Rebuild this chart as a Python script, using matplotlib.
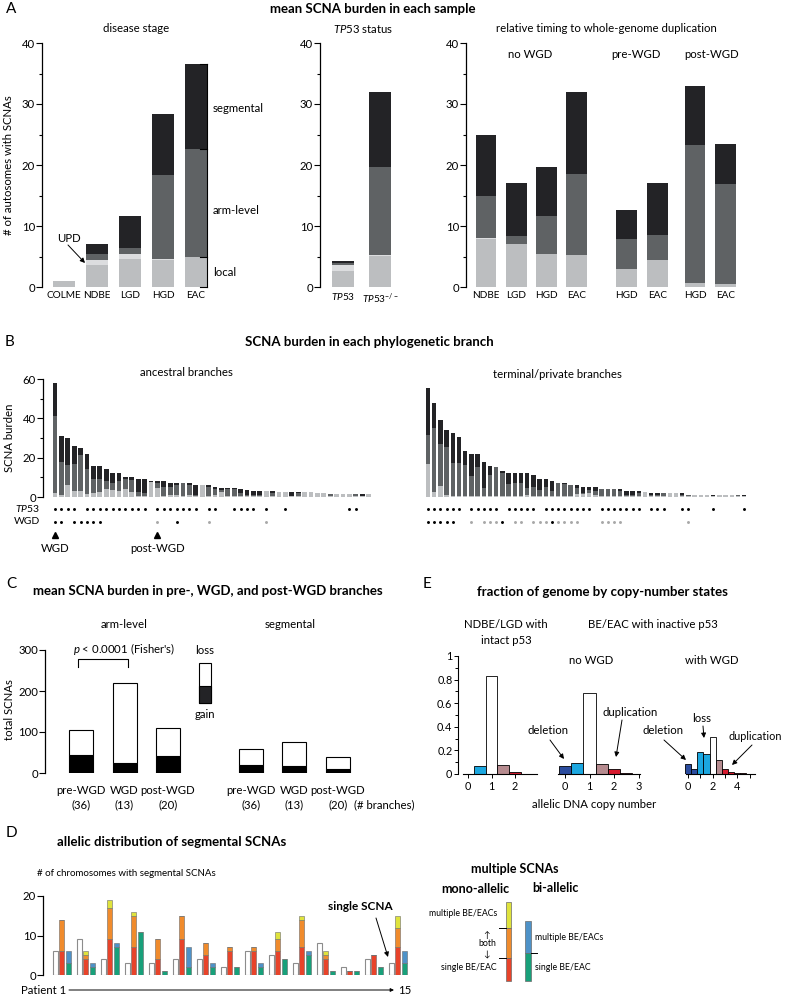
import numpy as np
import matplotlib

matplotlib.use("Agg")
import matplotlib.pyplot as plt
from matplotlib import transforms
from matplotlib.patches import Rectangle, FancyArrowPatch
from matplotlib.lines import Line2D

W, H = 785, 999
plt.rcParams["font.family"] = ["Lato", "DejaVu Sans"]
plt.rcParams["mathtext.fontset"] = "custom"
plt.rcParams["mathtext.rm"] = "Lato"
plt.rcParams["mathtext.it"] = "Lato:italic"
plt.rcParams["mathtext.bf"] = "Lato:bold"

FS = 8.2      # body text
FS_T = 9.5    # panel titles
FS_K = 7.8    # tick labels

# ---- colours
C_LOCAL, C_UPD, C_ARM, C_SEG = "#bcbec0", "#dcdddf", "#5f6264", "#232326"
C_RED, C_ORANGE, C_YELLOW = "#e8432a", "#f08b2c", "#dfe33c"
C_BLUE, C_GREEN = "#4e92c8", "#18a07a"
E_DKBLUE, E_LTBLUE, E_WHITE, E_MAUVE, E_RED = "#2b4c9e", "#1ba7e0", "#ffffff", "#b68b8f", "#d71a2e"

# ---- A: mean SCNA burden per sample
stage_names = ["COLME", "NDBE", "LGD", "HGD", "EAC"]
stage_local = [1.0, 3.6, 4.6, 4.4, 4.9]
stage_upd = [0.0, 0.8, 0.8, 0.2, 0.1]
stage_arm = [0.0, 1.0, 1.0, 13.8, 17.6]
stage_seg = [0.0, 1.6, 5.3, 9.9, 13.9]

tp53_names = [r"$TP53$", r"$TP53^{-/-}$"]
tp53_local = [2.7, 5.1]
tp53_upd = [0.9, 0.1]
tp53_arm = [0.4, 14.5]
tp53_seg = [0.3, 12.2]

wgd_names = ["NDBE", "LGD", "HGD", "EAC", "HGD", "EAC", "HGD", "EAC"]
wgd_local = [7.8, 7.0, 5.4, 5.3, 2.9, 4.4, 0.6, 0.5]
wgd_upd = [0.3, 0, 0, 0, 0, 0, 0, 0]
wgd_arm = [6.9, 1.3, 6.2, 13.3, 4.9, 4.1, 22.7, 16.4]
wgd_seg = [10.0, 8.7, 8.0, 13.4, 4.9, 8.6, 9.7, 6.5]

# ---- B: per-branch burden (local, arm-level, segmental)
anc_local = [2, 1, 6, 3, 3, 1.5, 2, 2.5, 4, 3.5, 3, 4, 2.5, 0.5, 0.5, 7.5, 4.5, 0.5, 1, 1,
             0.5, 1, 0.5, 6, 0.5, 1, 2.5, 0.5, 0.5, 0.5, 0.5, 0.5, 0.3, 3.2, 0.5, 2.4, 2.4, 0.4, 0.4, 2.4,
             2.4, 2, 1.8, 0.3, 1.5, 1.5, 1.5, 0.3, 0.3, 1.5]
anc_arm = [39, 17, 10.5, 14, 18.5, 12.5, 7, 6.5, 4, 3.5, 5, 5, 6, 2, 1.5, 0, 2.5, 4.5, 4, 5,
           6.5, 5, 0.5, 0, 4.5, 3, 1, 3.5, 3.5, 1.5, 0.5, 0.5, 0.5, 0, 1.7, 0, 0, 0, 1.5, 0,
           0, 0, 0, 1.2, 0, 0, 0, 1.2, 0.4, 0]
anc_seg = [17, 13, 13.5, 9, 3.5, 8, 7, 7, 6, 5, 4, 1, 1.5, 6.5, 7, 0.5, 1, 3, 2, 1,
           0, 1, 5, 0, 1, 1, 1, 0.5, 0.5, 2, 2.5, 2.2, 2.4, 0, 1, 0, 0, 2, 0.5, 0,
           0, 0, 0, 0, 0, 0, 0, 0, 0.8, 0]
anc_tp53 = [0, 1, 2, 3, 5, 6, 7, 8, 9, 10, 11, 12, 13, 14, 16, 17, 18, 19, 20, 21, 22,
            24, 25, 28, 29, 30, 31, 33, 36, 46, 47]
anc_wgd_black = [0, 1, 3, 4, 5, 6, 7, 19]
anc_wgd_gray = [16, 24, 33]

term_local = [17, 2.5, 5.5, 1, 0.5, 0.5, 0.5, 0.5, 0.5, 0.5, 0.5, 0.5, 0.5, 0.5, 0.5, 0.5, 1, 0.5,
              0.5, 0.5, 0.5, 0.5, 0.5, 0.5, 1.5, 1.5, 2, 1, 0.5, 0.5, 0.5, 0.5, 0.3, 0.3, 0.3, 2.5,
              0.3, 0.3, 0.3, 2, 2, 0.3, 0.3, 1, 1, 1, 0.3, 1, 1, 1, 0.3, 0.3]
term_arm = [14.5, 32.5, 21.5, 24.5, 17, 17, 16, 10, 15, 4, 10.5, 15, 11.5, 6, 6.5, 6.5, 3.5, 4.5,
            3, 4.5, 2.5, 6.5, 6, 5.8, 3, 0.3, 1.5, 2, 3.6, 3.6, 3.6, 2.8, 0.5, 0.5, 1.7, 0,
            0.5, 0.5, 1.7, 0, 0, 0.5, 0.7, 0, 0, 0, 0, 0, 0, 0, 0.7, 0]
term_seg = [24, 13, 12, 8.5, 15, 13, 7, 11.5, 6.5, 13.5, 5, 0, 1.3, 5.5, 5, 5, 7.5, 6,
            5.5, 4, 5, 0.3, 0.5, 0, 1.8, 3.3, 1.5, 2, 0, 0, 0, 0.8, 2.4, 2.4, 1, 0,
            1.4, 1.4, 0, 0, 0, 1.4, 0, 0, 0, 0, 0.7, 0, 0, 0, 0, 0.7]
term_tp53 = [0, 1, 2, 3, 4, 5, 7, 8, 9, 10, 11, 13, 14, 15, 16, 17, 19, 20, 21, 22, 23, 24, 25,
             26, 28, 29, 30, 31, 32, 33, 34, 36, 37, 38, 41, 42, 46, 51]
term_wgd_black = [0, 1, 2, 3, 4, 12, 20]
term_wgd_gray = [7, 9, 10, 11, 14, 15, 17, 18, 19, 21, 22, 23, 24, 28, 29, 30, 31, 42]

# ---- C: pre / WGD / post-WGD branches
c_groups = ["pre-WGD", "WGD", "post-WGD"]
c_branches = [36, 13, 20]
arm_total = [104, 219, 109]
arm_gain = [43, 24, 41]
seg_total = [59, 75, 40]
seg_gain = [20, 17, 10]

# ---- D: allelic distribution per patient
d_single = [6, 9, 4, 3, 3, 4, 4, 2, 6, 5, 3, 8, 2, 4, 3]
d_mono_single = [6, 4, 9, 7, 4, 9, 5, 6, 6, 6, 7, 4, 1, 5, 7]
d_mono_both = [8, 1, 8, 8, 5, 6, 3, 1, 1, 3, 7, 1, 0, 0, 5]
d_mono_multi = [0, 1, 2, 1, 0, 0, 0, 0, 0, 2, 1, 1, 0, 0, 3]
d_bi_single = [3, 2, 7, 11, 1, 2, 2, 2, 2, 4, 5, 1, 1, 2, 3]
d_bi_multi = [3, 1, 1, 0, 0, 5, 1, 0, 1, 0, 1, 0, 0, 0, 3]

# ---- E: fraction of genome by allelic copy number
e1_cn = [0, 0.5, 1, 1.5, 2, 2.5]
e1_frac = [0.004, 0.07, 0.83, 0.075, 0.015, 0.003]
e1_col = [E_DKBLUE, E_LTBLUE, E_WHITE, E_MAUVE, E_RED, E_RED]
e2_cn = [0, 0.5, 1, 1.5, 2, 2.5]
e2_frac = [0.07, 0.095, 0.685, 0.085, 0.04, 0.01]
e2_col = [E_DKBLUE, E_LTBLUE, E_WHITE, E_MAUVE, E_RED, E_RED]
e3_cn = [0, 0.5, 1, 1.5, 2, 2.5, 3, 3.5, 4, 4.5, 5]
e3_frac = [0.085, 0.04, 0.185, 0.17, 0.315, 0.115, 0.04, 0.02, 0.01, 0.005, 0.002]
e3_col = [E_DKBLUE, E_DKBLUE, E_LTBLUE, E_LTBLUE, E_WHITE, E_MAUVE, E_RED, E_RED, E_RED, E_RED, E_RED]

fig = plt.figure(figsize=(W / 100, H / 100), dpi=100)


def px_ax(l, t, r, b):
    return fig.add_axes([l / W, 1 - b / H, (r - l) / W, (b - t) / H])


def txt(x, y, s, size=FS, ha="center", va="center", **kw):
    return fig.text(x / W, 1 - y / H, s, fontsize=size, ha=ha, va=va, **kw)


def arrow(x1, y1, x2, y2, ms=7):
    fig.add_artist(FancyArrowPatch((x1 / W, 1 - y1 / H), (x2 / W, 1 - y2 / H),
                                   transform=fig.transFigure, arrowstyle="-|>",
                                   mutation_scale=ms, lw=0.7, color="k",
                                   shrinkA=0, shrinkB=0))


def fig_line(xs, ys, **kw):
    fig.add_artist(Line2D([x / W for x in xs], [1 - y / H for y in ys],
                          transform=fig.transFigure, **kw))


def left_axis(ax, ymax, major, minor=None, xlabelsize=FS_K):
    for s in ("top", "right", "bottom"):
        ax.spines[s].set_visible(False)
    ax.spines["left"].set_linewidth(0.9)
    ax.spines["left"].set_bounds(0, ymax)
    ax.set_ylim(0, ymax)
    ax.set_yticks(major)
    if minor is not None:
        ax.set_yticks(minor, minor=True)
    ax.tick_params(axis="y", which="major", length=4, width=0.8, labelsize=FS_K + 0.4, pad=1)
    ax.tick_params(axis="y", which="minor", length=2.5, width=0.8)
    ax.tick_params(axis="x", length=0, labelsize=xlabelsize, pad=3)
    ax.patch.set_visible(False)


def stacked(ax, x, layers, colors, width, **kw):
    bottom = np.zeros(len(x))
    for vals, c in zip(layers, colors):
        vals = np.asarray(vals, float)
        ax.bar(x, vals, width, bottom=bottom, color=c, **kw)
        bottom = bottom + vals
    return bottom


A_COLS = [C_LOCAL, C_UPD, C_ARM, C_SEG]

# ================= A =================
txt(6, 9, "A", size=11, ha="left")
txt(373, 9, "mean SCNA burden in each sample", size=FS_T, weight="bold")
txt(9, 165, "# of autosomes with SCNAs", rotation=90)

a1 = px_ax(42, 43, 240, 287)
left_axis(a1, 40, [0, 10, 20, 30, 40], [5, 15, 25, 35], xlabelsize=7.2)
xs = np.arange(len(stage_names))
stacked(a1, xs, [stage_local, stage_upd, stage_arm, stage_seg], A_COLS, 0.67, linewidth=0)
a1.set_xlim(-0.67, 5.33)
a1.set_xticks(xs, stage_names)
txt(136, 29, "disease stage")
# bracket beside EAC bar
eac_tops = np.cumsum([0, stage_local[4] + stage_upd[4], stage_arm[4], stage_seg[4]])
bx = 4.33
a1.plot([bx, bx], [0, eac_tops[-1]], color="k", lw=0.8, clip_on=False)
for yv in eac_tops:
    a1.plot([bx - 0.22, bx], [yv, yv], color="k", lw=0.8, clip_on=False)
txt(213, 108, "segmental", ha="left")
txt(213, 211, "arm-level", ha="left")
txt(213, 272, "local", ha="left")
txt(69, 239, "UPD")
arrow(68, 245, 85, 263)

a2 = px_ax(320, 43, 410, 287)
left_axis(a2, 40, [0, 10, 20, 30, 40], [5, 15, 25, 35], xlabelsize=7.2)
xs = np.arange(len(tp53_names))
stacked(a2, xs, [tp53_local, tp53_upd, tp53_arm, tp53_seg], A_COLS, 0.6, linewidth=0)
a2.set_xlim(-0.62, 1.81)
a2.set_xticks(xs, tp53_names)
txt(363, 29, r"$TP53$ status")

a3 = px_ax(466, 43, 745, 287)
left_axis(a3, 40, [0, 10, 20, 30, 40], [5, 15, 25, 35], xlabelsize=7.2)
xs = np.array([0, 1, 2, 3, 4.65, 5.65, 6.9, 7.9])
stacked(a3, xs, [wgd_local, wgd_upd, wgd_arm, wgd_seg], A_COLS, 0.69, linewidth=0)
a3.set_xlim(-0.66, 8.55)
a3.set_xticks(xs, wgd_names)
txt(606, 29, "relative timing to whole-genome duplication")
txt(530, 54, "no WGD")
txt(636, 54, "pre-WGD")
txt(712, 54, "post-WGD")

# ================= B =================
txt(5, 342, "B", size=11, ha="left")
txt(369, 342, "SCNA burden in each phylogenetic branch", size=FS_T, weight="bold")
txt(10, 438, "SCNA burden", rotation=90)
txt(40, 509, r"$TP53$", size=7.5, ha="right")
txt(40, 522, "WGD", size=7.5, ha="right")
ROW_TP53, ROW_WGD = 509, 522

b1 = px_ax(43, 379, 400, 497)
left_axis(b1, 60, [0, 20, 40, 60], [10, 30, 50])
xa = np.arange(len(anc_local))
stacked(b1, xa, [anc_local, anc_arm, anc_seg], [C_LOCAL, C_ARM, C_SEG], 0.72, linewidth=0)
b1.set_xlim((43 - 55) / 6.4, (400 - 55) / 6.4)
b1.set_xticks([])
txt(186, 373, "ancestral branches")

b2 = px_ax(420, 379, 760, 497)
for s in b2.spines.values():
    s.set_visible(False)
b2.set_ylim(0, 60)
xt = np.arange(len(term_local))
stacked(b2, xt, [term_local, term_arm, term_seg], [C_LOCAL, C_ARM, C_SEG], 0.72, linewidth=0)
b2.set_xlim((420 - 428) / 6.2, (760 - 428) / 6.2)
b2.set_xticks([])
b2.set_yticks([])
b2.patch.set_visible(False)
txt(557, 374, "terminal/private branches")

for ax, tp, wb, wg in ((b1, anc_tp53, anc_wgd_black, anc_wgd_gray),
                       (b2, term_tp53, term_wgd_black, term_wgd_gray)):
    tr = transforms.blended_transform_factory(ax.transData, fig.transFigure)
    ax.scatter(tp, [1 - ROW_TP53 / H] * len(tp), s=4.5, color="k", transform=tr, clip_on=False, lw=0)
    ax.scatter(wb, [1 - ROW_WGD / H] * len(wb), s=4.5, color="k", transform=tr, clip_on=False, lw=0)
    ax.scatter(wg, [1 - ROW_WGD / H] * len(wg), s=4.5, color="#a8a8a8", transform=tr, clip_on=False, lw=0)

tr = transforms.blended_transform_factory(b1.transData, fig.transFigure)
for idx, lab in ((anc_wgd_black[0], "WGD"), (anc_wgd_gray[0], "post-WGD")):
    b1.plot([idx], [1 - 535 / H], marker="^", ms=5, color="k", transform=tr, clip_on=False)
    b1.text(idx, 1 - 548 / H, lab, transform=tr, ha="center", va="center", fontsize=FS)

# ================= C =================
txt(6, 584, "C", size=11, ha="left")
txt(208, 591, "mean SCNA burden in pre-, WGD, and post-WGD branches", size=FS_T, weight="bold")
txt(10, 710, "total SCNAs", rotation=90)
c1 = px_ax(45, 650, 400, 773)
left_axis(c1, 300, [0, 100, 200, 300])
xc = np.array([0, 1, 2, 3.9, 4.9, 5.9])
tot = np.array(arm_total + seg_total)
gain = np.array(arm_gain + seg_gain)
c1.bar(xc, gain, 0.55, color="k", edgecolor="k", linewidth=0.8)
c1.bar(xc, tot - gain, 0.55, bottom=gain, color="white", edgecolor="k", linewidth=0.8)
c1.set_xlim(-0.83, 7.33)
c1.set_xticks([])
txt(124, 625, "arm-level")
txt(290, 625, "segmental")
for i, x in enumerate(xc):
    px = 81 + x * 43.5
    txt(px, 791, c_groups[i % 3])
    txt(px, 805, f"({c_branches[i % 3]})")
txt(384, 805, "(# branches)")
c1.plot([-0.07, -0.07, 1.08, 1.08], [258, 278, 278, 258], color="k", lw=0.8, clip_on=False)
txt(124, 649, r"$p$ < 0.0001 (Fisher's)")
fig.add_artist(Rectangle((199 / W, 1 - 703 / H), 12 / W, 40 / H, transform=fig.transFigure,
                         facecolor="white", edgecolor="k", lw=0.8))
fig.add_artist(Rectangle((199 / W, 1 - 703 / H), 12 / W, 17 / H, transform=fig.transFigure,
                         facecolor=C_SEG, edgecolor="k", lw=0.8))
txt(205, 651, "loss")
txt(205, 714, "gain")

# ================= D =================
txt(6, 833, "D", size=11, ha="left")
txt(57, 842, "allelic distribution of segmental SCNAs", size=FS_T, weight="bold", ha="left")
txt(37, 873, "# of chromosomes with segmental SCNAs", size=7.0, ha="left")
d1 = px_ax(43, 896, 420, 975)
left_axis(d1, 20, [0, 10, 20])
d1.set_xlim(43, 420)
d1.set_xticks([])
xp = 55.7 + 24.0 * np.arange(len(d_single))
d1.bar(xp, d_single, 5, color="white", edgecolor="#8c8c8c", linewidth=0.8)
stacked(d1, xp + 6.2, [d_mono_single, d_mono_both, d_mono_multi], [C_RED, C_ORANGE, C_YELLOW], 5,
        edgecolor="#6b6b6b", linewidth=0.4)
stacked(d1, xp + 12.4, [d_bi_single, d_bi_multi], [C_GREEN, C_BLUE], 5,
        edgecolor="#6b6b6b", linewidth=0.4)
txt(360, 906, "single SCNA", size=8.5, weight="bold")
arrow(376, 918, 388, 957)
txt(66, 990, "Patient 1", ha="right")
arrow(69, 990, 394, 990, ms=5)
txt(398, 990, "15", ha="left")

# legend for D
txt(515, 869, "multiple SCNAs", size=9, weight="bold")
txt(475, 889, "mono-allelic", size=9, weight="bold")
txt(555, 888, "bi-allelic", size=9, weight="bold")
seg_mono = [(C_YELLOW, 902, 928), (C_ORANGE, 928, 958), (C_RED, 958, 981)]
for c, t, b in seg_mono:
    fig.add_artist(Rectangle((505.5 / W, 1 - b / H), 5.5 / W, (b - t) / H, transform=fig.transFigure,
                             facecolor=c, edgecolor="#6b6b6b", lw=0.5))
fig_line([499, 505.5], [928, 928], color="k", lw=0.7)
fig_line([499, 505.5], [958, 958], color="k", lw=0.7)
for c, t, b in [(C_BLUE, 921, 953), (C_GREEN, 953, 981)]:
    fig.add_artist(Rectangle((525 / W, 1 - b / H), 5.5 / W, (b - t) / H, transform=fig.transFigure,
                             facecolor=c, edgecolor="#6b6b6b", lw=0.5))
fig_line([530.5, 537], [953, 953], color="k", lw=0.7)
txt(497, 914, "multiple BE/EACs", size=6.3, ha="right")
txt(487, 935, "\u2191", size=6.3)
txt(487, 944, "both", size=6.3)
txt(487, 954, "\u2193", size=6.3)
txt(497, 967, "single BE/EAC", size=6.3, ha="right")
txt(535, 937, "multiple BE/EACs", size=6.3, ha="left")
txt(535, 967, "single BE/EAC", size=6.3, ha="left")

# ================= E =================
txt(423, 584, "E", size=11, ha="left")
txt(602, 592, "fraction of genome by copy-number states", size=FS_T, weight="bold")
txt(506, 624, "NDBE/LGD with")
txt(506, 640, "intact p53")
txt(653, 624, "BE/EAC with inactive p53")
txt(591, 661, "no WGD")
txt(712, 661, "with WGD")


def e_axes(l, r, zero, unit, cn, frac, cols, bounds, ticks, labels, left=False):
    ax = px_ax(l, 656, r, 774)
    ax.set_xlim((l - zero) / unit, (r - zero) / unit)
    ax.set_ylim(0, 1)
    ax.bar(cn, frac, 0.5, color=cols, edgecolor="k", linewidth=0.6)
    ax.spines["top"].set_visible(False)
    ax.spines["right"].set_visible(False)
    ax.spines["bottom"].set_bounds(*bounds)
    ax.spines["bottom"].set_linewidth(0.8)
    ax.set_xticks(ticks, labels)
    ax.tick_params(axis="x", length=3, width=0.7, labelsize=FS_K, pad=2)
    if left:
        ax.spines["left"].set_linewidth(0.8)
        ax.set_yticks([0, 0.2, 0.4, 0.6, 0.8, 1.0], ["0", "0.2", "0.4", "0.6", "0.8", "1"])
        ax.set_yticks(np.arange(0.1, 1.0, 0.2), minor=True)
        ax.tick_params(axis="y", length=3, width=0.7, labelsize=FS_K, pad=1)
        ax.tick_params(axis="y", which="minor", length=2, width=0.7)
    else:
        ax.spines["left"].set_visible(False)
        ax.set_yticks([])
    ax.patch.set_visible(False)
    return ax


e_axes(458, 540, 468, 23.5, e1_cn, e1_frac, e1_col, (-0.21, 2.94), [0, 1, 2], ["0", "1", "2"], left=True)
e_axes(556, 642, 565, 24.5, e2_cn, e2_frac, e2_col, (-0.29, 3.06), [0, 1, 2, 3], ["0", "1", "2", "3"])
e_axes(684, 758, 688, 12.3, e3_cn, e3_frac, e3_col, (-0.16, 5.45), [0, 1, 2, 3, 4, 5],
       ["0", "", "2", "", "4", ""])
txt(594, 804, "allelic DNA copy number")

txt(548, 731, "deletion")
arrow(550, 740, 564, 759)
txt(630, 713, "duplication")
arrow(622, 720, 616, 757)
txt(663, 731, "deletion")
arrow(664, 740, 686, 760)
txt(702, 719, "loss")
arrow(703, 726, 704, 738)
txt(782, 737, "duplication", size=7.8, ha="right")
arrow(752, 745, 732, 765)

fig.savefig("out.png", dpi=100)
